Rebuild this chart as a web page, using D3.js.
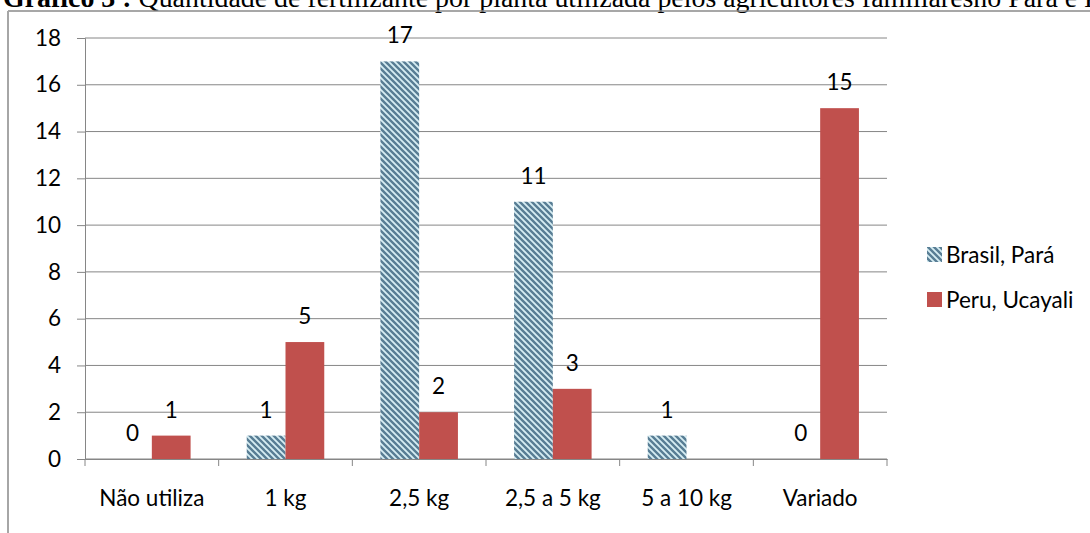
<!DOCTYPE html>
<html>
<head>
<meta charset="utf-8">
<script src="https://cdn.jsdelivr.net/npm/d3@7"></script>
<style>
html,body{margin:0;padding:0;background:#fff;overflow:hidden;}
svg{display:block;}
</style>
</head>
<body>
<svg id="chart" width="1090" height="533"></svg>
<script>
const categories = ["Não utiliza", "1 kg", "2,5 kg", "2,5 a 5 kg", "5 a 10 kg", "Variado"];
const seriesNames = ["Brasil, Pará", "Peru, Ucayali"];
const brasil = [0, 1, 17, 11, 1, 0];
const peru = [1, 5, 2, 3, null, 15];
const yTicks = [0, 2, 4, 6, 8, 10, 12, 14, 16, 18];
const titleBold = "Gráfico 3 :";
const titleRest = " Quantidade de fertilizante por planta utilizada pelos agricultores familiaresno Pará e Peru";

const W = 1090, H = 533;
const plot = {left: 85, right: 887, top: 38, bottom: 459};
const FONT = "Lato, 'Open Sans', sans-serif";
const FS = 22.5;

const svg = d3.select("#chart");

// pattern for Brasil
const defs = svg.append("defs");
const pat = defs.append("pattern").attr("id", "diag").attr("patternUnits", "userSpaceOnUse")
  .attr("width", 6).attr("height", 6);
pat.append("rect").attr("width", 6).attr("height", 6).attr("fill", "#d6edf3");
pat.append("path").attr("d", "M-1,-1 L7,7 M-4,2 L2,8 M4,-2 L8,2")
  .attr("stroke", "#587d94").attr("stroke-width", 2.4);

const colors = ["url(#diag)", "#C0504D"];

// title
const title = svg.append("text").attr("x", 3).attr("y", 6.5)
  .attr("font-family", "'Liberation Serif', 'Times New Roman', serif").attr("font-size", 27.9).attr("fill", "#000");
title.append("tspan").attr("font-weight", "bold").text(titleBold);
title.append("tspan").text(titleRest);

// frame
svg.append("line").attr("x1", 8).attr("x2", W).attr("y1", 11).attr("y2", 11)
  .attr("stroke", "#8a8a8a").attr("stroke-width", 1.5);
svg.append("line").attr("x1", 8).attr("x2", 8).attr("y1", 11).attr("y2", H)
  .attr("stroke", "#a6a6a6").attr("stroke-width", 2);

const y = d3.scaleLinear().domain([0, 18]).range([plot.bottom, plot.top]);
const x = d3.scaleBand().domain(categories).range([plot.left, plot.right]).padding(0);
const groupW = x.bandwidth() * 0.58;
const xs = d3.scaleBand().domain(seriesNames).range([0, groupW]).padding(0);

// gridlines
svg.append("g").selectAll("line").data(yTicks).join("line")
  .attr("x1", plot.left).attr("x2", plot.right)
  .attr("y1", d => y(d)).attr("y2", d => y(d))
  .attr("stroke", "#868686").attr("stroke-width", 1);

// y axis
const yAxis = svg.append("g").attr("transform", `translate(${plot.left},0)`)
  .call(d3.axisLeft(y).tickValues(yTicks).tickSize(8).tickPadding(16).tickFormat(d3.format("d")));
yAxis.select(".domain").attr("stroke", "#868686");
yAxis.selectAll(".tick line").attr("stroke", "#868686");
yAxis.selectAll("text").attr("font-family", FONT).attr("font-size", FS).attr("fill", "#000");

// x axis
const xAxis = svg.append("g").attr("transform", `translate(0,${plot.bottom})`)
  .call(d3.axisBottom(x).tickSize(0).tickPadding(0));
xAxis.select(".domain").attr("stroke", "#868686");
xAxis.selectAll(".tick text").attr("font-family", FONT).attr("font-size", FS).attr("fill", "#000")
  .attr("dy", 0).attr("y", 47);
const bounds = categories.map(c => x(c)).concat([plot.right]);
xAxis.append("g").selectAll("line").data(bounds).join("line")
  .attr("x1", d => d).attr("x2", d => d).attr("y1", 0).attr("y2", 7)
  .attr("stroke", "#868686");

// bars
const data = [];
categories.forEach((c, i) => {
  [brasil, peru].forEach((s, j) => {
    if (s[i] !== null) data.push({cat: c, series: seriesNames[j], v: s[i], j});
  });
});
const off = (x.bandwidth() - groupW) / 2;
svg.append("g").selectAll("rect").data(data.filter(d => d.v > 0)).join("rect")
  .attr("x", d => x(d.cat) + off + xs(d.series))
  .attr("y", d => y(d.v))
  .attr("width", xs.bandwidth())
  .attr("height", d => y(0) - y(d.v))
  .attr("fill", d => colors[d.j]);

// value labels
svg.append("g").selectAll("text").data(data).join("text")
  .attr("x", d => x(d.cat) + off + xs(d.series) + xs.bandwidth() / 2)
  .attr("y", d => y(d.v) - 18)
  .attr("text-anchor", "middle")
  .attr("font-family", FONT).attr("font-size", FS).attr("fill", "#000")
  .text(d => d.v);

// legend
const lg = svg.append("g").attr("transform", "translate(927,0)");
seriesNames.forEach((s, i) => {
  const cy = 254.5 + i * 45;
  lg.append("rect").attr("x", 0).attr("y", cy - 7.5).attr("width", 15).attr("height", 15)
    .attr("fill", colors[i]);
  lg.append("text").attr("x", 19).attr("y", cy + 8)
    .attr("font-family", FONT).attr("font-size", FS).attr("fill", "#000").text(s);
});
</script>
</body>
</html>
